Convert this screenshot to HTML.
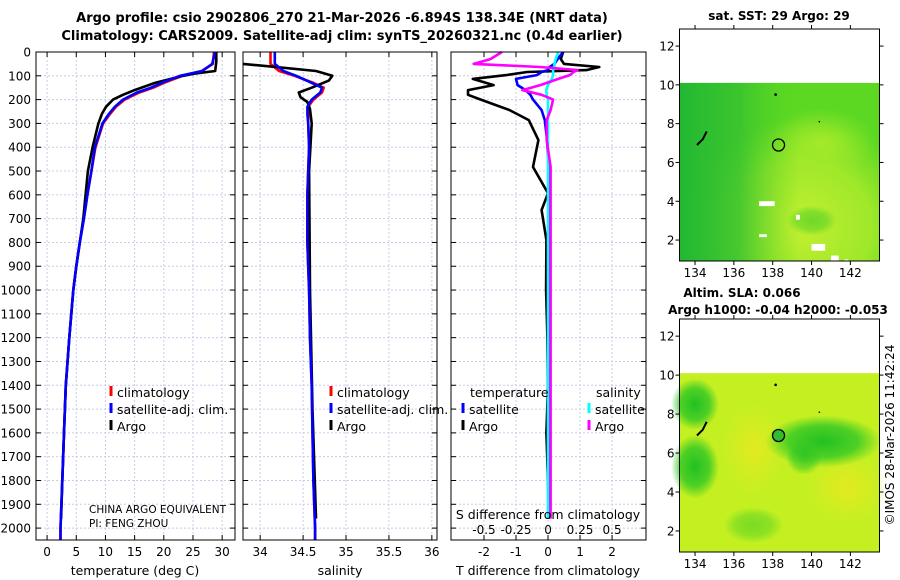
<!DOCTYPE html>
<html><head><meta charset="utf-8"><style>
html,body{margin:0;padding:0;background:#fff;}
svg{display:block;font-family:"DejaVu Sans","Liberation Sans",sans-serif;}
</style></head><body>
<svg id="chart" width="900" height="580" viewBox="0 0 900 580" xmlns="http://www.w3.org/2000/svg">
<defs>
<linearGradient id="sstL" x1="0" y1="0" x2="1" y2="0"><stop offset="0" stop-color="#22b833"/><stop offset="0.3" stop-color="#33c030" stop-opacity="0.8"/><stop offset="0.6" stop-color="#55d522" stop-opacity="0"/></linearGradient>
<radialGradient id="sstG2" cx="0.6" cy="0.8" r="0.6"><stop offset="0" stop-color="#c4f030"/><stop offset="0.6" stop-color="#b0ec2c" stop-opacity="0.8"/><stop offset="1" stop-color="#a8ea2a" stop-opacity="0"/></radialGradient>
<radialGradient id="sstG3" cx="0.5" cy="0.5" r="0.5"><stop offset="0" stop-color="#a4ea2a"/><stop offset="1" stop-color="#a4ea2a" stop-opacity="0"/></radialGradient>
<radialGradient id="slaY1" cx="0.5" cy="0.5" r="0.5"><stop offset="0" stop-color="#e2ea20"/><stop offset="1" stop-color="#e2ea20" stop-opacity="0"/></radialGradient>
<radialGradient id="slaG1" cx="0.5" cy="0.5" r="0.5"><stop offset="0" stop-color="#22c022"/><stop offset="0.6" stop-color="#30c825" stop-opacity="0.8"/><stop offset="1" stop-color="#30c825" stop-opacity="0"/></radialGradient>
</defs>
<text x="342" y="22" text-anchor="middle" font-size="13" font-weight="bold">Argo profile: csio 2902806_270 21-Mar-2026 -6.894S 138.34E (NRT data)</text>
<text x="342" y="40" text-anchor="middle" font-size="13" font-weight="bold">Climatology: CARS2009. Satellite-adj clim: synTS_20260321.nc (0.4d earlier)</text>
<g id="plots"></g>
<g id="maps"></g>
<text transform="translate(894,435) rotate(-90)" text-anchor="middle" font-size="12">©IMOS 28-Mar-2026 11:42:24</text>
</svg>
<script>
// ---- data ----
const depthClim = [0,50,80,100,130,150,170,200,230,260,300,400,500,600,700,800,900,1000,1200,1400,1600,1800,2000,2050];
const tempClim  = [28.6,28.4,26.5,23.2,20,18.2,15.8,13.3,11.8,10.8,9.6,8.3,7.6,6.9,6.3,5.6,5.0,4.5,3.8,3.2,2.9,2.6,2.3,2.3];
const tempSat   = [28.8,28.3,26.6,22.8,19.6,17.8,15.4,13.0,11.6,10.6,9.5,8.2,7.6,6.9,6.3,5.6,5.0,4.5,3.8,3.2,2.9,2.6,2.3,2.3];
const depthArgo = [0,40,80,90,100,130,160,180,200,230,260,300,400,500,600,700,800,900,1000,1200,1400,1600,1800,1960];
const tempArgo  = [29.0,29.0,28.8,25.5,23.3,18.5,15.0,13.0,11.3,10.1,9.4,8.8,7.8,7.0,6.6,6.2,5.6,5.0,4.5,3.8,3.2,2.9,2.6,2.4];
const salClim   = [34.12,34.12,34.22,34.4,34.62,34.74,34.72,34.62,34.56,34.56,34.56,34.57,34.56,34.55,34.55,34.55,34.56,34.57,34.58,34.6,34.61,34.62,34.64,34.64];
const salSat    = [34.17,34.17,34.27,34.42,34.6,34.72,34.7,34.6,34.55,34.55,34.56,34.57,34.56,34.55,34.55,34.55,34.56,34.57,34.58,34.6,34.61,34.62,34.64,34.64];
const depthSalArgo = [50,60,80,100,120,150,170,190,210,240,300,500,1000,1500,1960];
const salArgo   = [33.8,34.1,34.65,34.84,34.8,34.6,34.45,34.47,34.55,34.58,34.6,34.57,34.58,34.61,34.65];
const depthDiff = [0,30,50,63,76,84,97,113,139,160,180,200,244,286,370,483,593,664,790,1000,1200,1400,1600,1800,1960];
const tDiffArgo = [0.47,0.4,0.5,1.6,1.2,-0.65,-1.3,-2.35,-1.7,-2.5,-2.5,-2.1,-1.2,-0.6,-0.3,-0.47,0,-0.2,-0.05,-0.06,-0.02,0,-0.05,0,0.02];
const tDiffSat  = [0.47,0.3,0.2,0.05,0,-0.2,-0.35,-1.0,-0.95,-0.7,-0.55,-0.47,-0.2,-0.1,-0.03,0.02,0.05,0.05,0.05,0.05,0.05,0.05,0.05,0.05,0.05];
const sDiffSat  = [0.08,0.06,0.05,0.05,0.04,0.04,0.04,0.03,0.0,-0.015,-0.01,0.0,0.0,0.0,0.0,0.0,0.0,0.0,0.0,0.0,0.0,0.0,0.0,0.0,0.0];
const sDiffArgo = [-0.36,-0.45,-0.58,-0.06,0.23,0.2,0.17,0.08,-0.06,-0.2,-0.05,0.04,0.02,-0.01,-0.01,0.02,0.02,0.02,0.02,0.02,0.02,0.02,0.02,0.02,0.02];
const depthTicks = [0,100,200,300,400,500,600,700,800,900,1000,1100,1200,1300,1400,1500,1600,1700,1800,1900,2000];
const tempTicks = [0,5,10,15,20,25,30];
const salTicks = [34,34.5,35,35.5,36];
const tdTicks = [-2,-1,0,1,2];
const sdTicks = [-0.5,-0.25,0,0.25,0.5];
const latTicks = [2,4,6,8,10,12];
const lonTicks = [134,136,138,140,142];
const argoPos = [138.3, 6.9];

const NS='http://www.w3.org/2000/svg';
function mk(tag, attrs, parent, text){
  const e=document.createElementNS(NS,tag);
  for(const k in attrs) e.setAttribute(k,attrs[k]);
  if(text!==undefined) e.textContent=text;
  parent.appendChild(e); return e;
}
const plots=document.getElementById('plots');
const yTop=52, yBot=540, dMax=2050;
const yD = d => yTop + d*(yBot-yTop)/dMax;

function panel(name, x0, x1, vmin, vmax){
  const g=mk('g',{},plots);
  
  
  const sx = v => x0 + (v-vmin)*(x1-x0)/(vmax-vmin);
  return {g, sx, x0, x1};
}
function grid(p, ticks, sx){
  ticks.forEach(t=>{
    const l=mk('line',{x1:sx(t),x2:sx(t),y1:yTop,y2:yBot,stroke:'#c8cce8','stroke-dasharray':'2,2','stroke-width':1},p.g);
    
    
  });
  depthTicks.forEach(d=>{
    const l=mk('line',{x1:p.x0,x2:p.x1,y1:yD(d),y2:yD(d),stroke:'#c8cce8','stroke-dasharray':'2,2','stroke-width':1},p.g);
    
    
    mk('line',{x1:p.x0,x2:p.x0+5,y1:yD(d),y2:yD(d),stroke:'#000'},p.g);
    mk('line',{x1:p.x1,x2:p.x1-5,y1:yD(d),y2:yD(d),stroke:'#000'},p.g);
  });
}
function frame(p){
  const r=mk('rect',{x:p.x0,y:yTop,width:p.x1-p.x0,height:yBot-yTop,fill:'none',stroke:'#000','stroke-width':1},p.g);
  
  
}
function xticks(p, ticks, sx, labelY, name){
  ticks.forEach(t=>{
    mk('line',{x1:sx(t),x2:sx(t),y1:yBot,y2:yBot-5,stroke:'#000'},p.g);
    mk('line',{x1:sx(t),x2:sx(t),y1:yTop,y2:yTop+5,stroke:'#000'},p.g);
    const tx=mk('text',{x:sx(t),y:labelY,'text-anchor':'middle','font-size':12},p.g,String(t));
    
    
  });
}
function series(p, xs, ds, sx, color, name, w){
  const pts=xs.map((v,i)=>sx(v).toFixed(1)+','+yD(ds[i]).toFixed(1)).join(' ');
  const pl=mk('polyline',{points:pts,fill:'none',stroke:color,'stroke-width':w||2.6,'stroke-linejoin':'round'},p.g);
  
  
}
function legend(p, x, y, color, label, name){
  const b=mk('rect',{x:x-1.5,y:y-11,width:3,height:10,fill:color},p.g);
  
  
  const t=mk('text',{x:x+6,y:y,'font-size':12.5},p.g,label);
  
  
}
function text(p,x,y,s,size,name,anchor){
  const t=mk('text',{x:x,y:y,'font-size':size,'text-anchor':anchor||'start'},p.g,s);
  
  
}

// Panel 1 temperature
const p1=panel('temperature-panel',36,235,-1.9,32.2);
grid(p1,tempTicks,p1.sx);
depthTicks.forEach(d=>{
  const t=mk('text',{x:31,y:yD(d)+4.5,'text-anchor':'end','font-size':12},p1.g,String(d));
  
  
});
series(p1,tempClim,depthClim,p1.sx,'#ff0000','temp-climatology-line');
series(p1,tempArgo,depthArgo,p1.sx,'#000000','temp-argo-line');
series(p1,tempSat,depthClim,p1.sx,'#0000ff','temp-satellite-line');
frame(p1);
xticks(p1,tempTicks,p1.sx,556,'temp-tick-label');
text(p1,135,575,'temperature (deg C)',12.5,'x-axis-title-temperature','middle');
legend(p1,111,397,'#ff0000','climatology','legend-climatology');
legend(p1,111,414,'#0000ff','satellite-adj. clim.','legend-satellite');
legend(p1,111,431,'#000000','Argo','legend-argo');
text(p1,89,513,'CHINA ARGO EQUIVALENT',10.5,'institution-label');
text(p1,89,527,'PI: FENG ZHOU',10.5,'pi-label');

// Panel 2 salinity
const p2=panel('salinity-panel',243,437,33.8,36.06);
grid(p2,salTicks,p2.sx);
series(p2,salClim,depthClim,p2.sx,'#ff0000','sal-climatology-line');
series(p2,salArgo,depthSalArgo,p2.sx,'#000000','sal-argo-line');
series(p2,salSat,depthClim,p2.sx,'#0000ff','sal-satellite-line');
frame(p2);
xticks(p2,salTicks,p2.sx,556,'sal-tick-label');
text(p2,340,575,'salinity',12.5,'x-axis-title-salinity','middle');
legend(p2,331,397,'#ff0000','climatology','legend-climatology-2');
legend(p2,331,414,'#0000ff','satellite-adj. clim.','legend-satellite-2');
legend(p2,331,431,'#000000','Argo','legend-argo-2');

// Panel 3 differences
const p3=panel('difference-panel',451,646,-3.03,3.06);
const sxS = v => p3.sx(v*4);
grid(p3,tdTicks,p3.sx);
series(p3,tDiffArgo,depthDiff,p3.sx,'#000000','tdiff-argo-line');
series(p3,tDiffSat,depthDiff,p3.sx,'#0000ff','tdiff-satellite-line');
series(p3,sDiffSat,depthDiff,sxS,'#00ffff','sdiff-satellite-line');
series(p3,sDiffArgo,depthDiff,sxS,'#ff00ff','sdiff-argo-line');
frame(p3);
xticks(p3,tdTicks,p3.sx,556,'tdiff-tick-label');
text(p3,548,575,'T difference from climatology',12.5,'x-axis-title-tdiff','middle');
text(p3,548,519,'S difference from climatology',12.5,'sdiff-axis-title','middle');
sdTicks.forEach(t=>{ text(p3,sxS(t),534,String(t),12,'sdiff-tick-label','middle'); });
text(p3,470,397,'temperature',12.5,'legend-temperature-heading');
text(p3,596,397,'salinity',12.5,'legend-salinity-heading');
legend(p3,463,414,'#0000ff','satellite','legend-tdiff-satellite');
legend(p3,463,431,'#000000','Argo','legend-tdiff-argo');
legend(p3,589,414,'#00ffff','satellite','legend-sdiff-satellite');
legend(p3,589,431,'#ff00ff','Argo','legend-sdiff-argo');

// ---- maps ----
const maps=document.getElementById('maps');
function map(name, top, bot, kind){
  const g=mk('g',{},maps);
  
  
  const x0=679.5,x1=879.5, lonMin=133.2, lonMax=143.5, latMin=0.92, latMax=12.88;
  const sx=v=>x0+(v-lonMin)*(x1-x0)/(lonMax-lonMin);
  const sy=v=>bot-(v-latMin)*(bot-top)/(latMax-latMin);
  const dTop=sy(10.1), W=x1-x0, H=bot-dTop;
  if(kind==='sst'){
    mk('rect',{x:x0,y:dTop,width:W,height:H,fill:'#5cd822'},g);
    mk('rect',{x:x0,y:dTop,width:W,height:H,fill:'url(#sstG2)'},g);
    mk('ellipse',{cx:sx(140.5),cy:sy(7),rx:55,ry:35,fill:'url(#sstG3)'},g);
    mk('rect',{x:x0,y:dTop,width:W,height:H,fill:'url(#sstL)'},g);
    mk('ellipse',{cx:sx(140),cy:sy(3),rx:25,ry:15,fill:'url(#slaG1)',opacity:0.5},g);
    [[137.3,4.0,0.8,0.25],[139.2,3.3,0.2,0.25],[137.3,2.3,0.4,0.15],[140,1.8,0.7,0.35],[141,1.2,0.4,0.4],[141.7,1.0,0.2,0.15]].forEach(c=>{
      mk('rect',{x:sx(c[0]),y:sy(c[1]),width:sx(c[0]+c[2])-sx(c[0]),height:sy(c[1]-c[3])-sy(c[1]),fill:'#fff'},g);
    });
  } else {
    mk('rect',{x:x0,y:dTop,width:W,height:H,fill:'#c4f022'},g);
    mk('ellipse',{cx:sx(137),cy:sy(6.2),rx:30,ry:45,fill:'url(#slaY1)'},g);
    mk('ellipse',{cx:sx(141.8),cy:sy(4.2),rx:40,ry:35,fill:'url(#slaY1)'},g);
    mk('ellipse',{cx:sx(134),cy:sy(8.5),rx:24,ry:26,fill:'url(#slaG1)'},g);
    mk('ellipse',{cx:sx(134),cy:sy(5.3),rx:24,ry:32,fill:'url(#slaG1)'},g);
    mk('ellipse',{cx:sx(140.6),cy:sy(6.6),rx:58,ry:26,fill:'url(#slaG1)'},g);
    mk('ellipse',{cx:sx(139.6),cy:sy(5.8),rx:18,ry:18,fill:'url(#slaG1)',opacity:0.7},g);
    mk('ellipse',{cx:sx(137),cy:sy(2.3),rx:30,ry:18,fill:'url(#slaG1)',opacity:0.45},g);
  }
  // land specks
  mk('polyline',{points:[[134.1,6.9],[134.4,7.2],[134.6,7.6]].map(p=>sx(p[0])+','+sy(p[1])).join(' '),stroke:'#000','stroke-width':2,fill:'none'},g);
  mk('circle',{cx:sx(138.15),cy:sy(9.5),r:1.3,fill:'#000'},g);
  mk('circle',{cx:sx(140.4),cy:sy(8.1),r:0.8,fill:'#000'},g);
  const c=mk('circle',{cx:sx(argoPos[0]),cy:sy(argoPos[1]),r:6,fill:kind==='sla'?'#33bb33':'none',stroke:'#000','stroke-width':1.3},g);
  
  
  const f=mk('rect',{x:x0,y:top,width:W,height:bot-top,fill:'none',stroke:'#000'},g);
  
  
  latTicks.forEach(t=>{
    mk('line',{x1:x0,x2:x0-4,y1:sy(t),y2:sy(t),stroke:'#000'},g);
    mk('line',{x1:x1,x2:x1+4,y1:sy(t),y2:sy(t),stroke:'#000'},g);
    const tx=mk('text',{x:x0-5,y:sy(t)+4.5,'text-anchor':'end','font-size':12},g,String(t));
    
    
  });
  lonTicks.forEach(t=>{
    mk('line',{x1:sx(t),x2:sx(t),y1:bot,y2:bot+4,stroke:'#000'},g);
    mk('line',{x1:sx(t),x2:sx(t),y1:top,y2:top-4,stroke:'#000'},g);
    const tx=mk('text',{x:sx(t),y:bot+16,'text-anchor':'middle','font-size':12},g,String(t));
    
    
  });
  return g;
}
const m1=map('sst-map',29,261,'sst');
const m2=map('sla-map',319,552,'sla');
function mtitle(g,x,y,s,name){
  const t=mk('text',{x:x,y:y,'text-anchor':'middle','font-size':12,'font-weight':'bold'},g,s);
  
  
}
mtitle(m1,779,20,'sat. SST: 29 Argo: 29','sst-map-title');
mtitle(m2,742,297,'Altim. SLA: 0.066','sla-map-title');
mtitle(m2,778,314,'Argo h1000: -0.04 h2000: -0.053','argo-height-title');
</script>
</body></html>
